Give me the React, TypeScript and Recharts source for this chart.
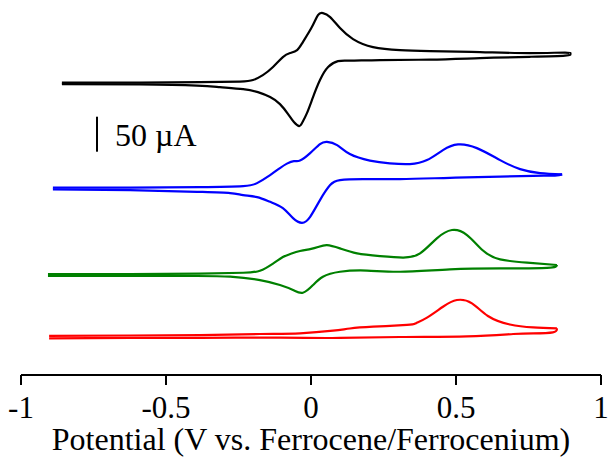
import { LineChart, Line, XAxis, YAxis, ReferenceLine } from 'recharts';

const FONT = '"Liberation Serif", "Times New Roman", Times, serif';

// Potential (V vs Fc/Fc+) and current (µA, relative to each trace's baseline)
// each trace: forward scan to the right, then reverse scan back to the left
const blackPotential = [-0.859, -0.59, -0.383, -0.245, -0.2, -0.166, -0.131, -0.097, -0.072, -0.048, -0.028, 0.003, 0.024, 0.041, 0.066, 0.1, 0.145, 0.214, 0.307, 0.41, 0.583, 0.755, 0.876, 0.893, 0.876, 0.755, 0.583, 0.41, 0.238, 0.134, 0.093, 0.059, 0.031, 0.007, -0.014, -0.031, -0.041, -0.059, -0.079, -0.107, -0.141, -0.183, -0.234, -0.314, -0.393, -0.59, -0.859];
const blackCurrent = [0.7, 0.7, 1.4, 2.1, 4.3, 11.4, 22.9, 37.1, 42.9, 47.1, 58.6, 80, 97.1, 100, 94.3, 78.6, 62.9, 51.4, 47, 45.7, 44.3, 42.9, 43.6, 42, 39.3, 37.6, 35.7, 33.6, 32.9, 32.1, 31.4, 22.9, 4.3, -20, -42.9, -57.1, -61.4, -55.7, -44.3, -30, -20, -12.9, -8.6, -5.7, -3.6, -1.9, -1.4];

const bluePotential = [-0.89, -0.624, -0.383, -0.234, -0.186, -0.141, -0.107, -0.083, -0.059, -0.038, -0.003, 0.031, 0.055, 0.09, 0.134, 0.203, 0.272, 0.341, 0.4, 0.455, 0.507, 0.572, 0.652, 0.721, 0.79, 0.866, 0.841, 0.766, 0.652, 0.479, 0.307, 0.179, 0.1, 0.066, 0.031, -0.003, -0.031, -0.062, -0.097, -0.141, -0.186, -0.234, -0.279, -0.393, -0.624, -0.89];
const blueCurrent = [0.7, 0.7, 1.4, 2.9, 7.1, 18.6, 28.6, 35, 38.6, 39.3, 50, 62.9, 66.1, 61.4, 48.6, 39.3, 35.3, 34.3, 40, 54.3, 62.4, 57.1, 40, 27.1, 21.4, 19.6, 17.9, 17.6, 16.4, 14.7, 12.9, 12.9, 11.4, 4.3, -17.1, -41, -49.6, -42.9, -28.6, -19.6, -12.9, -10, -7.1, -5.3, -2.9, -1.9];

const greenPotential = [-0.907, -0.624, -0.383, -0.234, -0.176, -0.131, -0.097, -0.072, -0.038, -0.003, 0.024, 0.055, 0.1, 0.159, 0.238, 0.317, 0.376, 0.434, 0.486, 0.538, 0.593, 0.652, 0.745, 0.848, 0.814, 0.652, 0.479, 0.307, 0.193, 0.1, 0.041, 0.007, -0.028, -0.062, -0.107, -0.176, -0.279, -0.393, -0.624, -0.907];
const greenCurrent = [0.7, 0.7, 1.4, 2.6, 5.4, 15.7, 25, 29.3, 33.6, 36.4, 39.3, 42.1, 37.4, 30.3, 26.4, 24.3, 30.3, 51.7, 63.6, 56.4, 34.3, 21.7, 16.9, 13.6, 9.6, 8.9, 7.4, 4.0, 5.7, 4.0, -3.1, -15, -26, -22.1, -15, -7.9, -3.1, -2.1, -1.9, -1.9];

const redPotential = [-0.903, -0.624, -0.383, -0.176, -0.038, 0.076, 0.134, 0.214, 0.331, 0.362, 0.4, 0.455, 0.503, 0.555, 0.61, 0.686, 0.766, 0.848, 0.834, 0.766, 0.697, 0.538, 0.307, 0.1, -0.107, -0.383, -0.624, -0.903];
const redCurrent = [1, 1.4, 2.1, 3.6, 4.6, 8.3, 11.4, 14, 16.5, 19, 27, 42.5, 52.1, 47.4, 29.3, 17.1, 12.9, 11.7, 6, 4.6, 3.6, 0.3, -0.7, -2.1, -1.7, -1.9, -2.1, -2.6];

// vertical offsets of the stacked traces (µA)
const traceOffsets = { black: 417, blue: 267, green: 143.5, red: 55 };

const xTicks = [-1, -0.5, 0, 0.5, 1];

// scale bar: 50 µA
const scaleBarPotential = -0.738;
const scaleBarStart = 319;
const scaleBarLength = 50;

// split a voltammogram into forward and reverse branches at the switching potential
const toBranches = (v: number[], i: number[], offset: number) => {
  const rows = v.map((x, k) => ({ v: x, i: i[k] + offset }));
  const tip = v.indexOf(Math.max(...v));
  return [rows.slice(0, tip + 1), rows.slice(tip)];
};

const traces = [
  { name: 'black', color: '#000000', branches: toBranches(blackPotential, blackCurrent, traceOffsets.black) },
  { name: 'blue', color: '#0000ff', branches: toBranches(bluePotential, blueCurrent, traceOffsets.blue) },
  { name: 'green', color: '#008000', branches: toBranches(greenPotential, greenCurrent, traceOffsets.green) },
  { name: 'red', color: '#ff0000', branches: toBranches(redPotential, redCurrent, traceOffsets.red) },
];

export default function App() {
  return (
    <div style={{ position: 'absolute', left: 0, top: 0, background: '#fff' }}>
      <LineChart width={608} height={463} margin={{ top: 4, right: 7, bottom: 0, left: 21 }}>
        <XAxis
          type="number"
          dataKey="v"
          domain={[-1, 1]}
          ticks={xTicks}
          interval={0}
          allowDataOverflow
          height={88}
          tickSize={10}
          tickMargin={11}
          axisLine={{ stroke: '#000', strokeWidth: 2 }}
          tickLine={{ stroke: '#000', strokeWidth: 2 }}
          tick={{ fill: '#000', fontSize: 31, fontFamily: FONT }}
          label={{
            value: 'Potential (V vs. Ferrocene/Ferrocenium)',
            position: 'insideBottom',
            offset: 13,
            fill: '#000',
            fontSize: 32,
            fontFamily: FONT,
          }}
        />
        <YAxis type="number" dataKey="i" domain={[0, 530]} hide allowDataOverflow />
        <ReferenceLine
          segment={[
            { x: scaleBarPotential, y: scaleBarStart },
            { x: scaleBarPotential, y: scaleBarStart + scaleBarLength },
          ]}
          stroke="#000"
          strokeWidth={2}
          label={{ value: '50 µA', position: 'right', offset: 18, fill: '#000', fontSize: 32, fontFamily: FONT }}
        />
        {traces.map((t) =>
          t.branches.map((b, k) => (
            <Line
              key={`${t.name}-${k}`}
              data={b}
              dataKey="i"
              type="natural"
              stroke={t.color}
              strokeWidth={2.2}
              dot={false}
              activeDot={false}
              isAnimationActive={false}
            />
          ))
        )}
      </LineChart>
    </div>
  );
}
